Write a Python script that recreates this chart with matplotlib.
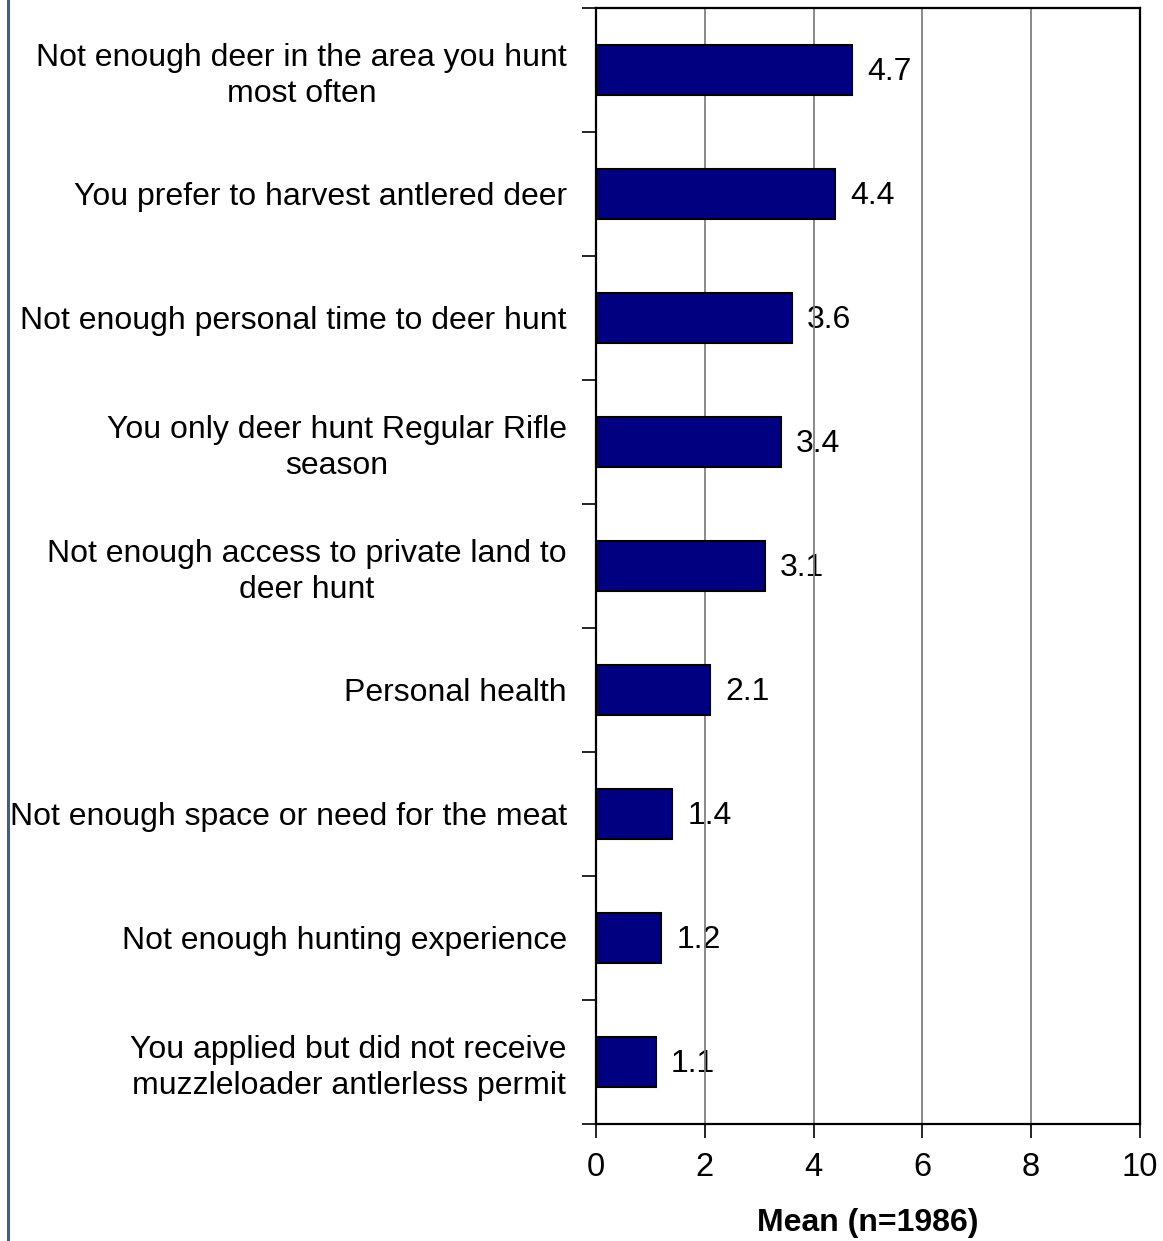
import matplotlib.pyplot as plt
from matplotlib.lines import Line2D

plt.rcParams['font.family'] = ['Liberation Sans', 'DejaVu Sans']

# reasons for not hunting antlerless deer, mean score
reasons = [
    'Not enough deer in the area you hunt\nmost often',
    'You prefer to harvest antlered deer',
    'Not enough personal time to deer hunt',
    'You only deer hunt Regular Rifle\nseason',
    'Not enough access to private land to\ndeer hunt',
    'Personal health',
    'Not enough space or need for the meat',
    'Not enough hunting experience',
    'You applied but did not receive\nmuzzleloader antlerless permit',
]
means = [4.7, 4.4, 3.6, 3.4, 3.1, 2.1, 1.4, 1.2, 1.1]

fig = plt.figure(figsize=(11.63, 12.41), dpi=100)
ax = fig.add_axes([0.5125, 0.0943, 0.4677, 0.8993])

pos = list(range(len(reasons)))
ax.barh(pos, means, height=0.4, color='#000080', edgecolor='black', linewidth=1.5, zorder=2)

for y, v in zip(pos, means):
    ax.text(v + 0.28, y + 0.02, f'{v:.1f}', va='center', ha='left', fontsize=23, zorder=0.1)

ax.set_xlim(0, 10)
ax.set_ylim(len(reasons) - 0.5, -0.5)
ax.set_xticks(range(0, 11, 2))
ax.set_xticklabels([str(t) for t in range(0, 11, 2)], fontsize=23.5)

# ticks at category boundaries, labels at centres
ax.set_yticks([i - 0.5 for i in range(len(reasons) + 1)])
ax.set_yticklabels([])
ax.set_yticks(pos, minor=True)
ax.set_yticklabels(reasons, minor=True, fontsize=23)
for lbl in ax.get_yticklabels(minor=True):
    lbl.set_multialignment('center')
    lbl.set_linespacing(1.22)
ax.tick_params(axis='y', which='minor', length=0, pad=21)
ax.tick_params(axis='y', which='major', length=10, width=1.2, direction='out')
ax.tick_params(axis='x', length=10, width=1.2, direction='out', pad=10)

ax.xaxis.grid(True, color='#808080', linewidth=1.3)
ax.set_axisbelow(True)
for s in ax.spines.values():
    s.set_linewidth(1.6)
    s.set_color('black')

ax.set_xlabel('Mean (n=1986)', fontsize=23, fontweight='bold', labelpad=18)

fig.add_artist(Line2D([0.0065, 0.0065], [0, 1], transform=fig.transFigure,
                      color='#3a5f96', linewidth=2.2))

fig.savefig('out.png', dpi=100)
